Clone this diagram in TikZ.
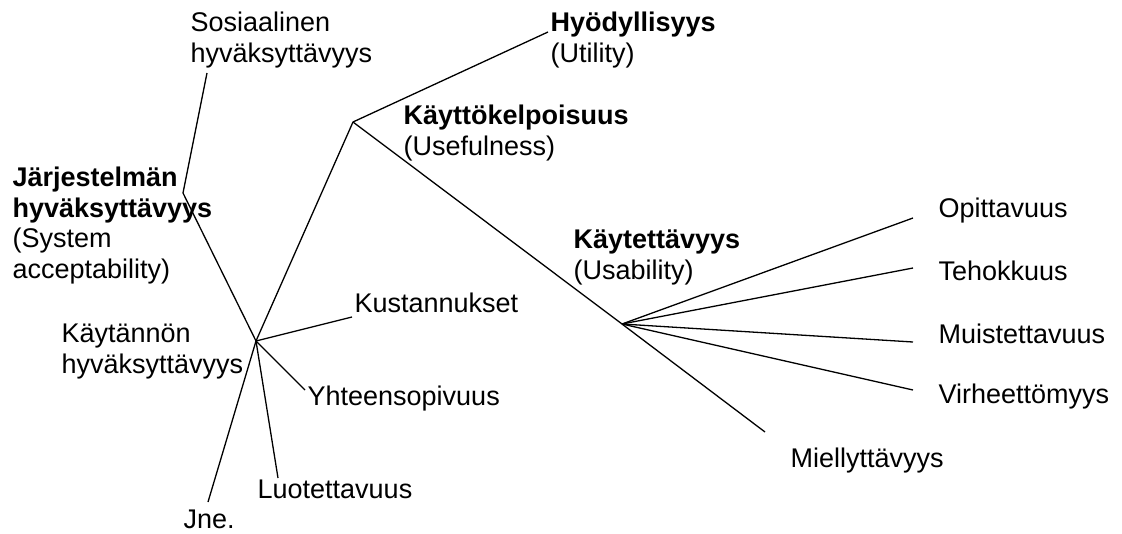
\documentclass[tikz,border=0pt]{standalone}
\usepackage{fontspec}
\setmainfont{Liberation Sans}

\begin{document}
\begin{tikzpicture}[x=1pt,y=-1pt,line width=1.3pt,
	lbl/.style={anchor=base west,inner sep=0pt,align=left,
		font=\fontsize{27}{30.5}\selectfont}]
\useasboundingbox (0,0) rectangle (1122,533);
% branch points
\coordinate (jarj) at (183,193);
\coordinate (kayt) at (256,341);
\coordinate (kelp) at (353,122);
\coordinate (usab) at (622,324);
% free ends
\coordinate (sosE) at (207,73);
\coordinate (hyoE) at (548,32);
\coordinate (mieE) at (765,432);
\coordinate (kusE) at (352,317);
\coordinate (yhtE) at (305,390);
\coordinate (luoE) at (278,478);
\coordinate (jneE) at (208,502);
\coordinate (opiE) at (913,218);
\coordinate (tehE) at (913,268);
\coordinate (muiE) at (913,342);
\coordinate (virE) at (913,390);
% labels (multi-line ones sit on their last baseline)
\node[lbl] (sos) at (190,62) {Sosiaalinen\\hyväksyttävyys};
\node[lbl] (jar) at (12,278) {\textbf{Järjestelmän}\\\textbf{hyväksyttävyys}\\(System\\acceptability)};
\node[lbl] (hyo) at (550,62) {\textbf{Hyödyllisyys}\\(Utility)};
\node[lbl] (kel) at (403,155) {\textbf{Käyttökelpoisuus}\\(Usefulness)};
\node[lbl] (kay) at (573,279) {\textbf{Käytettävyys}\\(Usability)};
\node[lbl] (kan) at (61,373) {Käytännön\\hyväksyttävyys};
\node[lbl] (kus) at (354,312) {Kustannukset};
\node[lbl] (yht) at (307,405) {Yhteensopivuus};
\node[lbl] (luo) at (257,498) {Luotettavuus};
\node[lbl] (jne) at (183,528) {Jne.};
\node[lbl] (opi) at (938,217) {Opittavuus};
\node[lbl] (teh) at (938,280) {Tehokkuus};
\node[lbl] (mui) at (938,343) {Muistettavuus};
\node[lbl] (vir) at (938,403) {Virheettömyys};
\node[lbl] (mie) at (790,467) {Miellyttävyys};
% tree
\draw (sosE) -- (jarj) -- (kayt) -- (kelp) -- (hyoE);
\draw (kelp) -- (usab) -- (mieE);
\foreach \e in {kusE,yhtE,luoE,jneE}
	\draw (kayt) -- (\e);
\foreach \e in {opiE,tehE,muiE,virE}
	\draw (usab) -- (\e);
\end{tikzpicture}
\end{document}
